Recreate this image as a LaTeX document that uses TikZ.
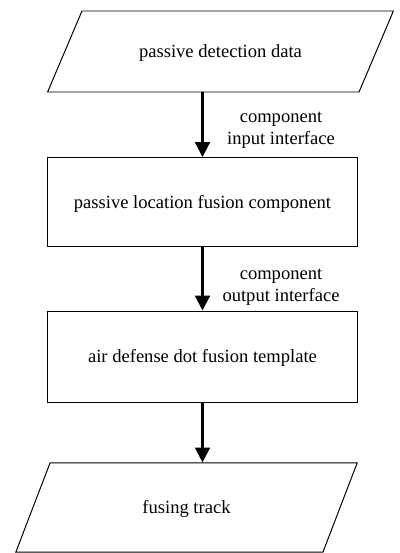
\documentclass[tikz,border=0pt]{standalone}
\usepackage{fontspec}
\setmainfont{Liberation Serif}
\usetikzlibrary{shapes.geometric,arrows.meta}

\begin{document}
\begin{tikzpicture}[x=0.025cm, y=-0.025cm,
  font=\fontsize{13.2}{15.6}\selectfont,
  io node/.style={draw, line width=0.7pt, trapezium, trapezium left angle=67,
    trapezium right angle=113, text height=9pt, text depth=0pt},
  main node/.style={draw, line width=0.7pt, rectangle, minimum width=7.725cm,
    text height=9pt, text depth=0pt},
  flow/.style={line width=1.6pt, -{Triangle[length=0.37cm, width=0.37cm]}}]
\useasboundingbox (0,0) rectangle (400,553);
\node[io node, inner xsep=40.6pt, inner ysep=24.3pt] (p1) at (220.5,51.5) {passive detection data};
\node[main node, minimum height=2.225cm] (b1) at (202.5,202) {passive location fusion component};
\node[main node, minimum height=2.275cm] (b2) at (202.5,356.5) {air defense dot fusion template};
\node[io node, trapezium left angle=69, trapezium right angle=111,
  inner xsep=65.7pt, inner ysep=27.2pt] (p2) at (186.5,507.5) {fusing track};
\node[align=center] (l1) at (281,130) {component\\input interface};
\node[align=center] (l2) at (281,287) {component\\output interface};
\draw[flow] (b1.north |- p1.south) -- (b1.north);
\draw[flow] (b1.south) -- (b2.north);
\draw[flow] (b2.south) -- (b2.south |- p2.north);
\end{tikzpicture}
\end{document}
